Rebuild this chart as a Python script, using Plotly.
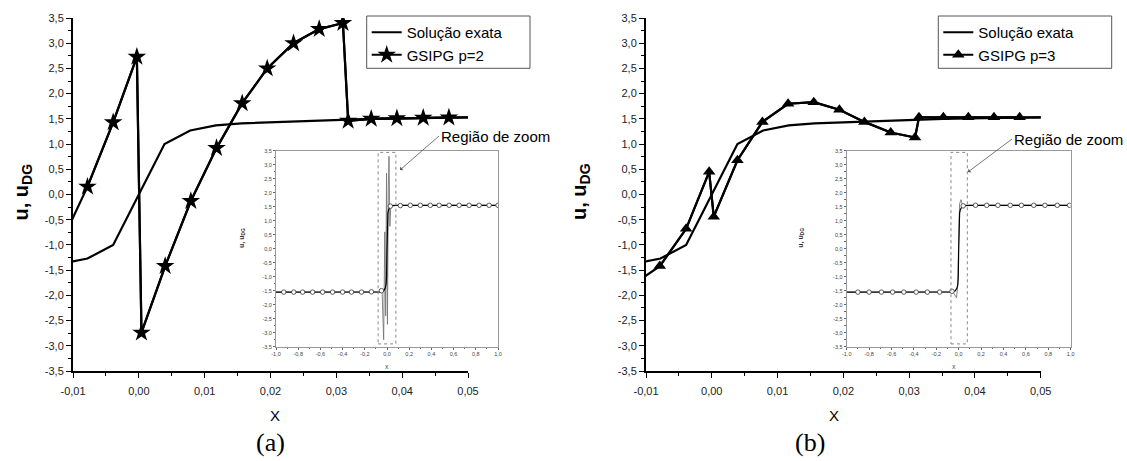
import plotly.graph_objects as go

W, H = 1127, 461

# ---------------- main panel data ----------------
exact_x = [-0.0117, -0.0078, -0.0039, 0.0, 0.0039, 0.0078, 0.0117, 0.0156, 0.0195,
           0.0234, 0.0273, 0.0313, 0.0352, 0.0391, 0.0430, 0.0469, 0.0508]
exact_u = [-1.37, -1.27, -1.00, 0.00, 1.00, 1.27, 1.37, 1.41, 1.43,
           1.45, 1.47, 1.49, 1.50, 1.51, 1.52, 1.525, 1.53]

p2_x = [-0.0117, -0.0078, -0.0039, -0.0003, 0.0004, 0.0040, 0.0079, 0.0118, 0.0157, 0.0195,
        0.0235, 0.0274, 0.0310, 0.0318, 0.0353, 0.0392, 0.0432, 0.0471, 0.0508]
p2_u = [-0.93, 0.155, 1.43, 2.73, -2.74, -1.42, -0.13, 0.92, 1.81, 2.50,
        3.00, 3.28, 3.40, 1.46, 1.50, 1.51, 1.52, 1.525, 1.53]

p3_x = [-0.0117, -0.0079, -0.0039, -0.0004, 0.0003, 0.0039, 0.0077, 0.0116, 0.0155, 0.0194,
        0.0232, 0.0272, 0.0309, 0.0315, 0.0352, 0.0390, 0.0429, 0.0468, 0.0508]
p3_u = [-1.76, -1.42, -0.68, 0.45, -0.44, 0.68, 1.44, 1.80, 1.83, 1.68,
        1.44, 1.23, 1.13, 1.53, 1.53, 1.53, 1.53, 1.53, 1.53]

ytick_vals = [3.5, 3.0, 2.5, 2.0, 1.5, 1.0, 0.5, 0.0, -0.5, -1.0, -1.5, -2.0, -2.5, -3.0, -3.5]
ytick_text = ["3,5", "3,0", "2,5", "2,0", "1,5", "1,0", "0,5", "0,0", "-0,5", "-1,0",
              "-1,5", "-2,0", "-2,5", "-3,0", "-3,5"]
xtick_vals = [-0.01, 0.0, 0.01, 0.02, 0.03, 0.04, 0.05]
xtick_text = ["-0,01", "0,00", "0,01", "0,02", "0,03", "0,04", "0,05"]

# ---------------- inset data ----------------
in_xtick_vals = [-1.0, -0.8, -0.6, -0.4, -0.2, 0.0, 0.2, 0.4, 0.6, 0.8, 1.0]
in_xtick_text = ["-1,0", "-0,8", "-0,6", "-0,4", "-0,2", "0,0", "0,2", "0,4", "0,6", "0,8", "1,0"]

in_ex_x = [-1.0, -0.1, -0.05, -0.03, -0.015, -0.008, -0.004, 0.0, 0.004, 0.008, 0.015, 0.03, 0.05, 0.1, 1.0]
in_ex_u = [-1.55, -1.55, -1.54, -1.50, -1.40, -1.27, -1.00, 0.00, 1.00, 1.27, 1.40, 1.50, 1.54, 1.55, 1.55]

in_a_dg_x = [-1.0, -0.06, -0.045, -0.035, -0.030, -0.020, -0.012, -0.004, 0.004, 0.012, 0.018, 0.026, 0.034, 0.045, 1.0]
in_a_dg_u = [-1.55, -1.55, -1.45, -2.60, -3.25, 0.60, -2.40, 2.70, -2.70, 2.20, 3.30, 0.80, 1.50, 1.55, 1.55]
in_a_mk_x = [-0.93, -0.84, -0.76, -0.67, -0.58, -0.49, -0.40, -0.32, -0.23, -0.14, -0.05,
             0.03, 0.12, 0.21, 0.30, 0.39, 0.47, 0.56, 0.65, 0.74, 0.83, 0.92, 1.0]
in_a_mk_u = [-1.55, -1.55, -1.55, -1.55, -1.55, -1.55, -1.55, -1.55, -1.55, -1.54, -1.50,
             1.52, 1.54, 1.55, 1.55, 1.55, 1.55, 1.55, 1.55, 1.55, 1.55, 1.55, 1.55]

in_b_dg_x = [-1.0, -0.05, -0.02, -0.008, 0.0, 0.008, 0.02, 0.035, 1.0]
in_b_dg_u = [-1.55, -1.55, -1.75, -1.30, 0.30, 1.60, 1.75, 1.55, 1.55]
in_b_mk_x = [-0.90, -0.80, -0.69, -0.59, -0.49, -0.38, -0.28, -0.17, -0.06,
             0.04, 0.15, 0.25, 0.35, 0.46, 0.56, 0.67, 0.77, 0.88, 0.99]
in_b_mk_u = [-1.55, -1.55, -1.55, -1.55, -1.55, -1.55, -1.55, -1.55, -1.52,
             1.53, 1.55, 1.55, 1.55, 1.55, 1.55, 1.55, 1.55, 1.55, 1.55]

zoom_a = [-0.08, 0.08, -3.40, 3.44]
zoom_b = [-0.069, 0.077, -3.40, 3.44]

FONT = "Liberation Sans"


def px(v):
    return v / W


def py(v):
    return 1 - v / H


fig = go.Figure()

LW = 2.2
# ---- panel (a)
fig.add_trace(go.Scatter(x=exact_x, y=exact_u, mode="lines", name="Solução exata",
                         line=dict(color="black", width=LW), xaxis="x", yaxis="y", legend="legend"))
fig.add_trace(go.Scatter(x=p2_x, y=p2_u, mode="lines", showlegend=False,
                         line=dict(color="black", width=LW), xaxis="x", yaxis="y"))
fig.add_trace(go.Scatter(x=p2_x[1:-1], y=p2_u[1:-1], mode="lines+markers", name="GSIPG p=2",
                         line=dict(color="black", width=LW),
                         marker=dict(symbol="star", size=14, color="black"),
                         xaxis="x", yaxis="y", legend="legend"))
# ---- panel (b)
fig.add_trace(go.Scatter(x=exact_x, y=exact_u, mode="lines", name="Solução exata",
                         line=dict(color="black", width=LW), xaxis="x2", yaxis="y2", legend="legend2"))
fig.add_trace(go.Scatter(x=p3_x, y=p3_u, mode="lines", showlegend=False,
                         line=dict(color="black", width=LW), xaxis="x2", yaxis="y2"))
fig.add_trace(go.Scatter(x=p3_x[1:-1], y=p3_u[1:-1], mode="lines+markers", name="GSIPG p=3",
                         line=dict(color="black", width=LW),
                         marker=dict(symbol="triangle-up", size=11, color="black"),
                         xaxis="x2", yaxis="y2", legend="legend2"))

# ---- insets
for xa, ya, dgx, dgu, mkx, mku in [("x3", "y3", in_a_dg_x, in_a_dg_u, in_a_mk_x, in_a_mk_u),
                                   ("x4", "y4", in_b_dg_x, in_b_dg_u, in_b_mk_x, in_b_mk_u)]:
    fig.add_trace(go.Scatter(x=dgx, y=dgu, mode="lines", showlegend=False,
                             line=dict(color="#777777", width=0.9), xaxis=xa, yaxis=ya))
    fig.add_trace(go.Scatter(x=in_ex_x, y=in_ex_u, mode="lines", showlegend=False,
                             line=dict(color="black", width=1.2), xaxis=xa, yaxis=ya))
    fig.add_trace(go.Scatter(x=mkx, y=mku, mode="markers", showlegend=False,
                             marker=dict(symbol="circle", size=4.5, color="white",
                                         line=dict(color="#333333", width=0.8)),
                             xaxis=xa, yaxis=ya))

tickfont = dict(family=FONT, size=11, color="#222222")


def main_x(dom, anchor):
    return dict(domain=dom, anchor=anchor, range=[-0.01, 0.05], tickvals=xtick_vals, ticktext=xtick_text,
                ticks="outside", ticklen=5, tickwidth=1.4, tickcolor="black", ticklabelstandoff=4,
                showline=True, linecolor="black", linewidth=2, showgrid=False, zeroline=False,
                tickfont=tickfont, automargin=False,
                minor=dict(ticks="outside", ticklen=3, tickwidth=1.2, tickcolor="black", dtick=0.005, tick0=0))


def main_y(anchor):
    return dict(domain=[py(371), py(18)], anchor=anchor, range=[-3.5, 3.5], tickvals=ytick_vals,
                ticktext=ytick_text, ticks="outside", ticklen=5, tickwidth=1.4, tickcolor="black",
                showline=True, linecolor="black", linewidth=2, showgrid=False, zeroline=False,
                tickfont=tickfont, automargin=False,
                minor=dict(ticks="outside", ticklen=3, tickwidth=1.2, tickcolor="black", dtick=0.25, tick0=0))


infont = dict(family=FONT, size=5.5, color="#444444")


def in_x(dom, anchor):
    return dict(domain=dom, anchor=anchor, range=[-1.0, 1.0], tickvals=in_xtick_vals, ticktext=in_xtick_text,
                ticks="outside", ticklen=2, tickwidth=0.6, tickcolor="#666666",
                showline=True, linecolor="#999999", linewidth=1, mirror=True, showgrid=False, zeroline=False,
                tickfont=infont, automargin=False,
                minor=dict(ticks="outside", ticklen=1.5, tickwidth=0.5, tickcolor="#666666", dtick=0.1, tick0=0))


def in_y(anchor):
    return dict(domain=[py(346.7), py(150.7)], anchor=anchor, range=[-3.5, 3.5], tickvals=ytick_vals,
                ticktext=ytick_text, ticks="outside", ticklen=2, tickwidth=0.6, tickcolor="#666666",
                showline=True, linecolor="#999999", linewidth=1, mirror=True, showgrid=False, zeroline=False,
                tickfont=infont, automargin=False,
                minor=dict(ticks="outside", ticklen=1.5, tickwidth=0.5, tickcolor="#666666", dtick=0.25, tick0=0))


legend_common = dict(xanchor="left", yanchor="top", bgcolor="rgba(0,0,0,0)", borderwidth=0,
                     font=dict(family=FONT, size=15, color="black"), tracegroupgap=0, itemwidth=30)

fig.update_layout(
    width=W, height=H, margin=dict(l=0, r=0, t=0, b=0, pad=0, autoexpand=False),
    paper_bgcolor="white", plot_bgcolor="rgba(0,0,0,0)",
    xaxis=main_x([px(73), px(468)], "y"), yaxis=main_y("x"),
    xaxis2=main_x([px(646), px(1040.7)], "y2"), yaxis2=main_y("x2"),
    xaxis3=in_x([px(276), px(498)], "y3"), yaxis3=in_y("x3"),
    xaxis4=in_x([px(846.7), px(1070.7)], "y4"), yaxis4=in_y("x4"),
    legend=dict(x=px(366.7), y=py(16), **legend_common),
    legend2=dict(x=px(938.3), y=py(16), **legend_common),
)

# legend frames
for x0, x1 in [(366.7, 530), (938.3, 1111.7)]:
    fig.add_shape(type="rect", xref="paper", yref="paper", x0=px(x0), x1=px(x1), y0=py(68.3), y1=py(16),
                  line=dict(color="#555555", width=1), layer="below")

# zoom rectangles in insets
for (x0, x1, y0, y1), xa, ya in [(zoom_a, "x3", "y3"), (zoom_b, "x4", "y4")]:
    fig.add_shape(type="rect", xref=xa, yref=ya, x0=x0, x1=x1, y0=y0, y1=y1,
                  line=dict(color="#888888", width=1, dash="dot"))

ann = []
for off, lab, inset_axis in [(0, "(a)", 276), (573, "(b)", 846.7)]:
    ann.append(dict(x=px(8 + off), y=py(192), xref="paper", yref="paper", text="<b>u, u<sub>DG</sub></b>",
                    textangle=-90, showarrow=False, font=dict(family=FONT, size=20, color="black")))
    ann.append(dict(x=px(268 + off), y=py(426), xref="paper", yref="paper", text="X",
                    showarrow=False, font=dict(family=FONT, size=15, color="black")))
    ann.append(dict(x=px(254 + off), y=py(459), xref="paper", yref="paper", text=lab,
                    showarrow=False, font=dict(family="Liberation Serif", size=26, color="black")))
    # inset axis titles
    ann.append(dict(x=px(inset_axis - 40), y=py(238), xref="paper", yref="paper",
                    text="<b>u, u<sub>DG</sub></b>", textangle=-90, showarrow=False,
                    font=dict(family=FONT, size=7, color="#333333")))
    ann.append(dict(x=px(inset_axis + 111), y=py(372), xref="paper", yref="paper", text="x",
                    showarrow=False, font=dict(family=FONT, size=7, color="#555555")))

# "Região de zoom" labels with arrows (text sits at the arrow tail)
for hx, hy, tlx, tly in [(400, 170, 439, 136), (968, 172, 1012, 139)]:
    ann.append(dict(x=px(hx), y=py(hy), xref="paper", yref="paper", text="Região de zoom",
                    xanchor="left", yanchor="middle", showarrow=True,
                    ax=tlx - hx, ay=tly - hy, arrowhead=1, arrowsize=1, arrowwidth=0.8,
                    arrowcolor="#555555", standoff=0, startstandoff=0,
                    font=dict(family=FONT, size=15, color="black")))

fig.update_layout(annotations=ann)

fig.write_html("out.html")
